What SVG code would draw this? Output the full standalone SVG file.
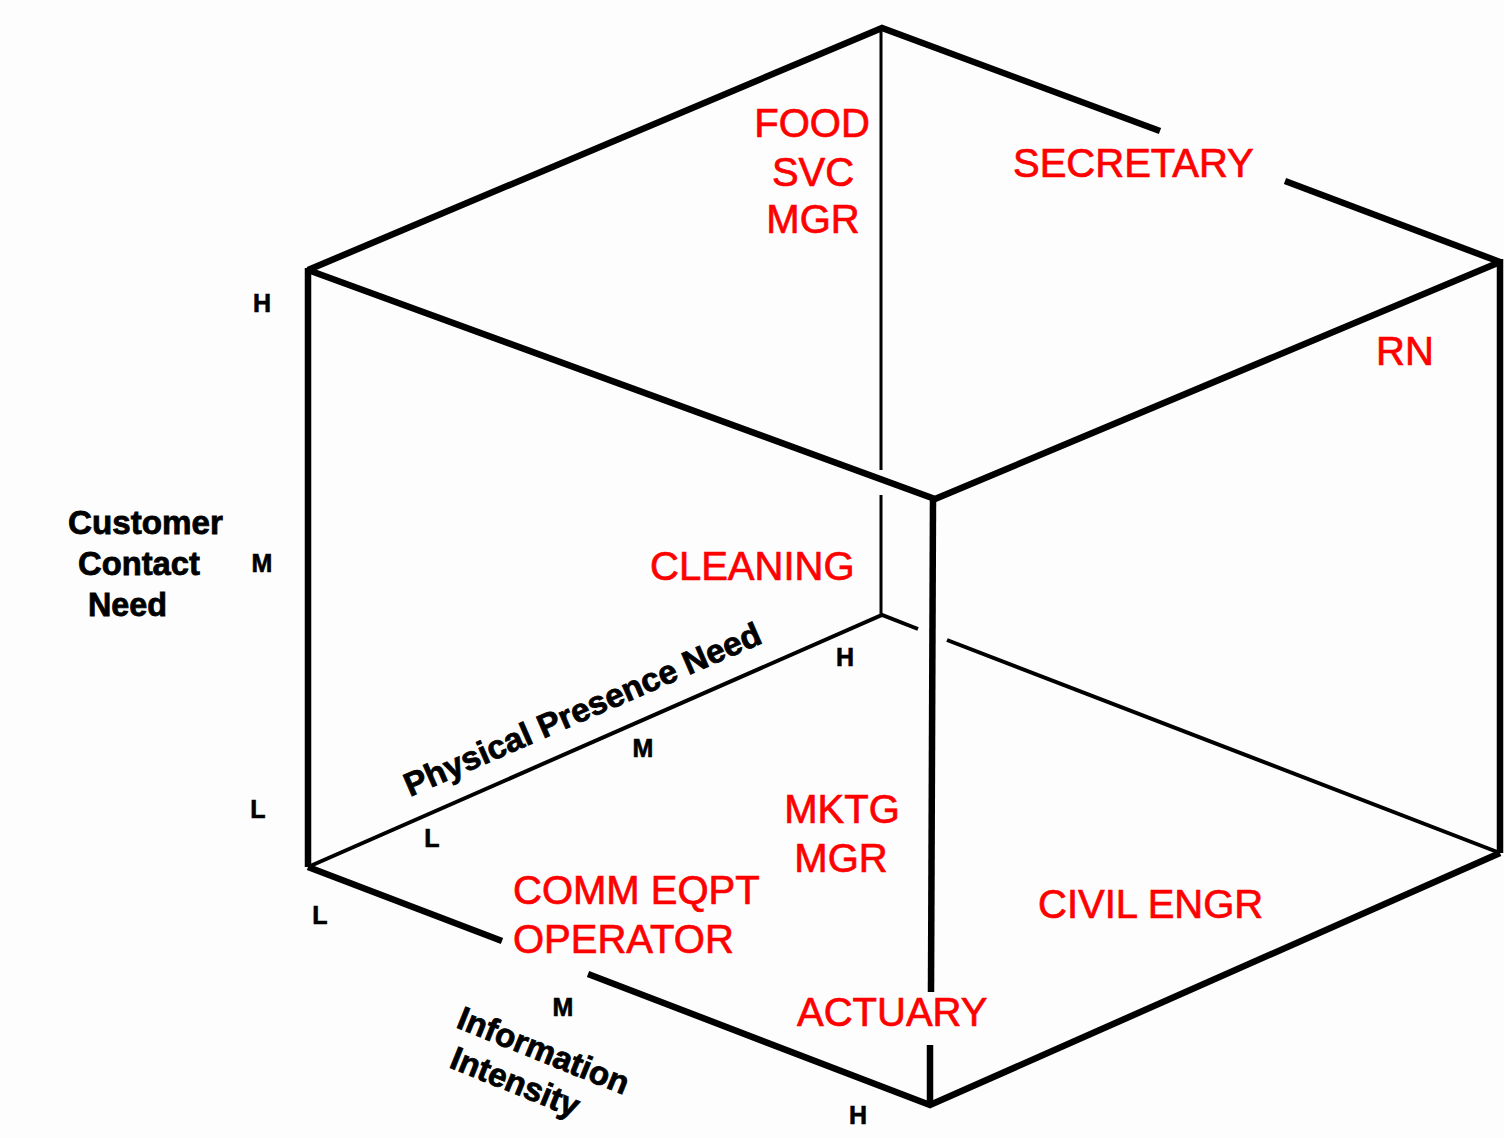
<svg xmlns="http://www.w3.org/2000/svg" width="1504" height="1138" viewBox="0 0 1504 1138">
<style>
.thick{fill:none;stroke:#000;stroke-width:6.5;stroke-linejoin:miter;stroke-linecap:butt}
.thin{fill:none;stroke:#000;stroke-width:3;stroke-linecap:butt}
.mid{fill:none;stroke:#000;stroke-width:4;stroke-linecap:butt}
.red{font-family:"Liberation Sans",Arial,sans-serif;font-size:40px;fill:#ff0000;stroke:#ff0000;stroke-width:0.7}
.axis{font-family:"Liberation Sans",Arial,sans-serif;font-size:25px;font-weight:bold;fill:#000;stroke:#000;stroke-width:0.6}
.title{font-family:"Liberation Sans",Arial,sans-serif;font-size:33px;font-weight:bold;fill:#000;stroke:#000;stroke-width:0.8}
</style>
<rect x="0" y="0" width="1504" height="1138" fill="#fcfdfc"/>
<g id="connectors">
  <path class="thick" d="M308,270 L882,28 L1160,131"/>
  <path class="thick" d="M1285,181 L1500,262"/>
  <path class="thick" d="M308,270 L935,499 L1500,262"/>
  <path class="thick" d="M308,268 L308,867"/>
  <path class="thick" d="M1500,259 L1500,853"/>
  <path class="thick" d="M933,499 L931,992"/>
  <path class="thick" d="M930,1045 L930,1105"/>
  <path class="thick" d="M308,867 L502,941"/>
  <path class="thick" d="M588,974 L930,1105 L1500,853"/>
  <path class="thin" d="M881,30 L881,470"/>
  <path class="thin" d="M881,495 L881,615"/>
  <path class="mid" d="M308,867 L882,615 L918,629"/>
  <path class="mid" d="M947,640 L1500,853"/>
</g>
<g id="axis-customer-contact">
  <text class="title" x="68" y="534" textLength="155" lengthAdjust="spacingAndGlyphs">Customer</text>
  <text class="title" x="78" y="575" textLength="122" lengthAdjust="spacingAndGlyphs">Contact</text>
  <text class="title" x="88" y="616" textLength="79" lengthAdjust="spacingAndGlyphs">Need</text>
  <text class="axis" x="262" y="312" text-anchor="middle">H</text>
  <text class="axis" x="262" y="572" text-anchor="middle">M</text>
  <text class="axis" x="258" y="818" text-anchor="middle">L</text>
</g>
<g id="axis-physical-presence">
  <text class="title" transform="translate(410,797) rotate(-23.6)" textLength="386" lengthAdjust="spacingAndGlyphs">Physical Presence Need</text>
  <text class="axis" x="432" y="847" text-anchor="middle">L</text>
  <text class="axis" x="643" y="757" text-anchor="middle">M</text>
  <text class="axis" x="845" y="666" text-anchor="middle">H</text>
</g>
<g id="axis-information-intensity">
  <text class="title" transform="translate(455,1027) rotate(22)" textLength="182" lengthAdjust="spacingAndGlyphs">Information</text>
  <text class="title" transform="translate(448,1067) rotate(22)" textLength="136" lengthAdjust="spacingAndGlyphs">Intensity</text>
  <text class="axis" x="320" y="924" text-anchor="middle">L</text>
  <text class="axis" x="563" y="1016" text-anchor="middle">M</text>
  <text class="axis" x="858" y="1124" text-anchor="middle">H</text>
</g>
<g id="node-food-svc-mgr">
  <text class="red" x="812" y="137" text-anchor="middle">FOOD</text>
  <text class="red" x="813" y="186" text-anchor="middle">SVC</text>
  <text class="red" x="813" y="233" text-anchor="middle">MGR</text>
</g>
<g id="node-secretary"><text class="red" x="1013" y="177">SECRETARY</text></g>
<g id="node-rn"><text class="red" x="1376" y="365">RN</text></g>
<g id="node-cleaning"><text class="red" x="650" y="580">CLEANING</text></g>
<g id="node-mktg-mgr">
  <text class="red" x="842" y="823" text-anchor="middle">MKTG</text>
  <text class="red" x="841" y="872" text-anchor="middle">MGR</text>
</g>
<g id="node-comm-eqpt-operator">
  <text class="red" x="513" y="904">COMM EQPT</text>
  <text class="red" x="513" y="953">OPERATOR</text>
</g>
<g id="node-civil-engr"><text class="red" x="1038" y="918">CIVIL ENGR</text></g>
<g id="node-actuary"><text class="red" x="797" y="1026">ACTUARY</text></g>
</svg>
